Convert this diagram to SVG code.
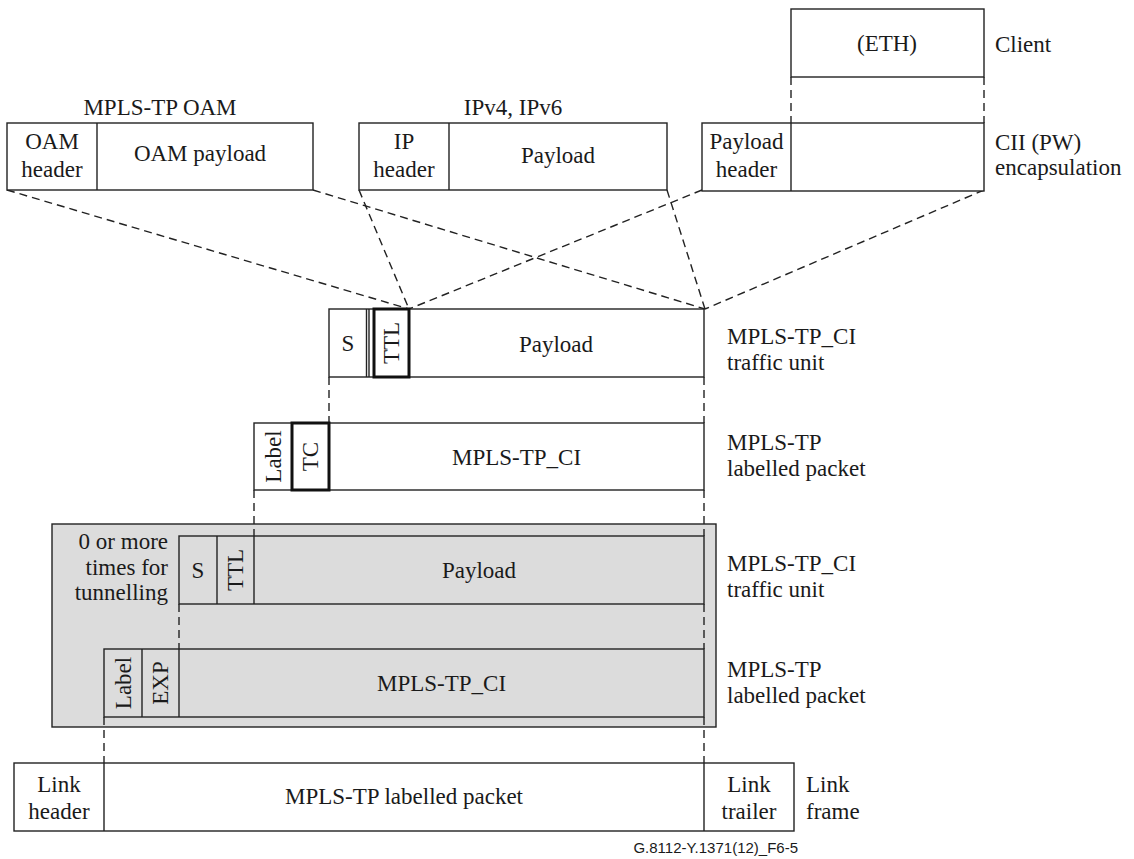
<svg xmlns="http://www.w3.org/2000/svg" width="1134" height="859" viewBox="0 0 1134 859">
<style>
text{font-family:"Liberation Serif","Times New Roman",serif;font-size:23px;fill:#1a1a1a}
.m{text-anchor:middle}
.e{text-anchor:end}
.b{fill:#fff;stroke:#222;stroke-width:1.4}
.g{fill:#dcdcdc;stroke:#222;stroke-width:1.4}
.n{fill:#dcdcdc;stroke:#222;stroke-width:1.4}
.l{stroke:#222;stroke-width:1.4;fill:none}
.k{fill:none;stroke:#111;stroke-width:3}
.d{stroke:#222;stroke-width:1.4;fill:none;stroke-dasharray:8 5}
.f{font-family:"Liberation Sans",Arial,sans-serif;font-size:15px}
</style>
<rect width="1134" height="859" fill="#fff"/>
<g id="shade"><rect class="g" x="52" y="524" width="664" height="203"/></g>
<g id="connectors">
<line class="d" x1="7" y1="190" x2="409" y2="309"/>
<line class="d" x1="313" y1="190" x2="705" y2="309"/>
<line class="d" x1="359" y1="190" x2="409" y2="309"/>
<line class="d" x1="667" y1="190" x2="705" y2="309"/>
<line class="d" x1="702" y1="190" x2="409" y2="309"/>
<line class="d" x1="984" y1="190" x2="705" y2="309"/>
<line class="d" x1="791" y1="77" x2="791" y2="123"/>
<line class="d" x1="984" y1="77" x2="984" y2="123"/>
<line class="d" x1="329" y1="377" x2="329" y2="423"/>
<line class="d" x1="704" y1="377" x2="704" y2="423"/>
<line class="d" x1="254" y1="490" x2="254" y2="536"/>
<line class="d" x1="704" y1="490" x2="704" y2="536"/>
<line class="d" x1="179" y1="604" x2="179" y2="649"/>
<line class="d" x1="704" y1="604" x2="704" y2="649"/>
<line class="d" x1="104" y1="717" x2="104" y2="763"/>
<line class="d" x1="704" y1="717" x2="704" y2="763"/>
</g>
<g id="oam">
<text class="m" x="160" y="115">MPLS-TP OAM</text>
<rect class="b" x="7" y="123" width="306" height="67"/>
<line class="l" x1="97" y1="123" x2="97" y2="190"/>
<text class="m" x="52" y="149">OAM</text>
<text class="m" x="52" y="177">header</text>
<text class="m" x="200" y="161">OAM payload</text>
</g>
<g id="ip">
<text class="m" x="513" y="115">IPv4, IPv6</text>
<rect class="b" x="359" y="123" width="308" height="67"/>
<line class="l" x1="449" y1="123" x2="449" y2="190"/>
<text class="m" x="404" y="149">IP</text>
<text class="m" x="404" y="177">header</text>
<text class="m" x="558" y="163">Payload</text>
</g>
<g id="client">
<rect class="b" x="791" y="9" width="193" height="68"/>
<text class="m" x="887" y="51">(ETH)</text>
<text x="995" y="52">Client</text>
</g>
<g id="cii">
<rect class="b" x="702" y="123" width="282" height="68"/>
<line class="l" x1="791" y1="123" x2="791" y2="191"/>
<text class="m" x="746.5" y="149">Payload</text>
<text class="m" x="746.5" y="177">header</text>
<text x="995" y="150">CII (PW)</text>
<text x="995" y="175">encapsulation</text>
</g>
<g id="tu1">
<rect class="b" x="329" y="309" width="375" height="68"/>
<line class="l" x1="366.5" y1="309" x2="366.5" y2="377"/>
<line class="l" x1="369" y1="309" x2="369" y2="377"/>
<rect class="k" x="374" y="309" width="35" height="68"/>
<text class="m" x="348" y="351">S</text>
<text class="m" transform="translate(391.5,343) rotate(-90)" y="7.6">TTL</text>
<text class="m" x="556" y="352">Payload</text>
<text x="727" y="344">MPLS-TP_CI</text>
<text x="727" y="370">traffic unit</text>
</g>
<g id="lp1">
<rect class="b" x="254" y="423" width="450" height="67"/>
<line class="l" x1="292" y1="423" x2="292" y2="490"/>
<rect class="k" x="292" y="423" width="37" height="67"/>
<text class="m" transform="translate(273,456.5) rotate(-90)" y="7.6">Label</text>
<text class="m" transform="translate(310.5,456.5) rotate(-90)" y="7.6">TC</text>
<text class="m" x="516.5" y="465">MPLS-TP_CI</text>
<text x="727" y="450">MPLS-TP</text>
<text x="727" y="476">labelled packet</text>
</g>
<g id="tu2">
<text class="e" x="168" y="549">0 or more</text>
<text class="e" x="168" y="575">times for</text>
<text class="e" x="168" y="600">tunnelling</text>
<rect class="n" x="179" y="536" width="525" height="68"/>
<line class="l" x1="217" y1="536" x2="217" y2="604"/>
<line class="l" x1="254" y1="536" x2="254" y2="604"/>
<text class="m" x="198" y="578">S</text>
<text class="m" transform="translate(235.5,570) rotate(-90)" y="7.6">TTL</text>
<text class="m" x="479" y="578">Payload</text>
<text x="727" y="571">MPLS-TP_CI</text>
<text x="727" y="597">traffic unit</text>
</g>
<g id="lp2">
<rect class="n" x="104" y="649" width="600" height="68"/>
<line class="l" x1="142" y1="649" x2="142" y2="717"/>
<line class="l" x1="179" y1="649" x2="179" y2="717"/>
<text class="m" transform="translate(123,683) rotate(-90)" y="7.6">Label</text>
<text class="m" transform="translate(160.5,683) rotate(-90)" y="7.6">EXP</text>
<text class="m" x="441.5" y="691">MPLS-TP_CI</text>
<text x="727" y="677">MPLS-TP</text>
<text x="727" y="703">labelled packet</text>
</g>
<g id="link">
<rect class="b" x="14" y="763" width="780" height="68"/>
<line class="l" x1="104" y1="763" x2="104" y2="831"/>
<line class="l" x1="704" y1="763" x2="704" y2="831"/>
<text class="m" x="59" y="792">Link</text>
<text class="m" x="59" y="819">header</text>
<text class="m" x="404" y="804">MPLS-TP labelled packet</text>
<text class="m" x="749" y="792">Link</text>
<text class="m" x="749" y="819">trailer</text>
<text x="806" y="792">Link</text>
<text x="806" y="819">frame</text>
</g>
<text class="f e" x="798" y="853">G.8112-Y.1371(12)_F6-5</text>
</svg>
